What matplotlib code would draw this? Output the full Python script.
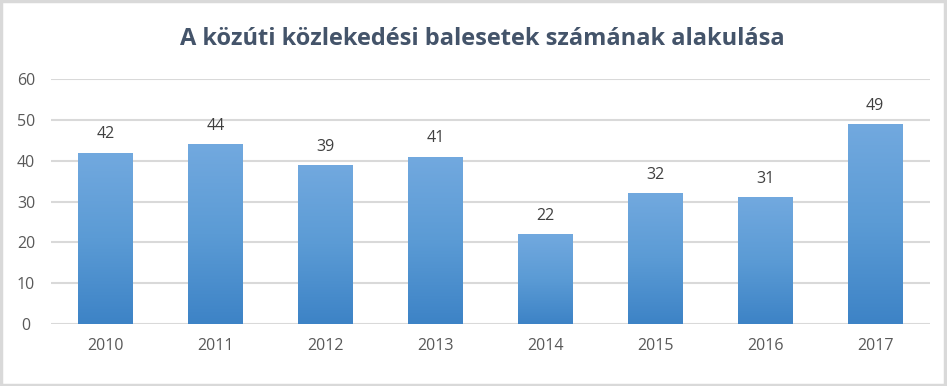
import numpy as np
import matplotlib
matplotlib.use('Agg')
from matplotlib import pyplot as plt
from matplotlib.colors import LinearSegmentedColormap
from matplotlib.patches import Rectangle

years = ['2010', '2011', '2012', '2013', '2014', '2015', '2016', '2017']
accidents = [42, 44, 39, 41, 22, 32, 31, 49]
yticks = [0, 10, 20, 30, 40, 50, 60]

plt.rcParams['font.family'] = ['Open Sans', 'DejaVu Sans']

fig = plt.figure(figsize=(9.47, 3.86), dpi=100)
fig.patch.set_facecolor('white')
# light grey frame round the chart
fig.patches.append(Rectangle((0.001, 0.002), 0.997, 0.995, transform=fig.transFigure,
                             fill=False, edgecolor='#d9d9d9', linewidth=2.5))

ax = fig.add_axes([51 / 947, 62 / 386, 879 / 947, 245 / 386])
x = np.arange(len(years))
bars = ax.bar(x, accidents, width=0.5, color='none', zorder=2)

# vertical gradient per bar, light on top, darker at the bottom
cmap = LinearSegmentedColormap.from_list('bar', ['#3d83c6', '#5b9bd5', '#72a9df'])
grad = np.linspace(0, 1, 256).reshape(-1, 1)
for b in bars:
    x0, y0 = b.get_x(), b.get_y()
    im = ax.imshow(grad, cmap=cmap, origin='lower', aspect='auto',
                   extent=[x0, x0 + b.get_width(), y0, y0 + b.get_height()], zorder=2)
    im.set_clip_path(b)

for xi, v in zip(x, accidents):
    ax.text(xi, v + 2.5, str(v), ha='center', va='bottom', fontsize=11.5, color='#404040')

ax.set_xlim(-0.5, len(years) - 0.5)
ax.set_ylim(0, 60)
ax.set_yticks(yticks)
ax.set_xticks(x)
ax.set_xticklabels(years)
ax.yaxis.grid(True, color='#d9d9d9', linewidth=1.5, zorder=0)
ax.set_axisbelow(True)
for s in ax.spines.values():
    s.set_visible(False)
ax.tick_params(length=0, labelsize=11.5, labelcolor='#595959')
ax.tick_params(axis='x', pad=10)
ax.tick_params(axis='y', pad=18)
for lab in ax.get_yticklabels():
    lab.set_horizontalalignment('center')

fig.text(0.509, 0.9, 'A közúti közlekedési balesetek számának alakulása', ha='center', va='center',
         fontsize=17, fontweight='bold', color='#44546a')

fig.savefig('out.png', dpi=100)
